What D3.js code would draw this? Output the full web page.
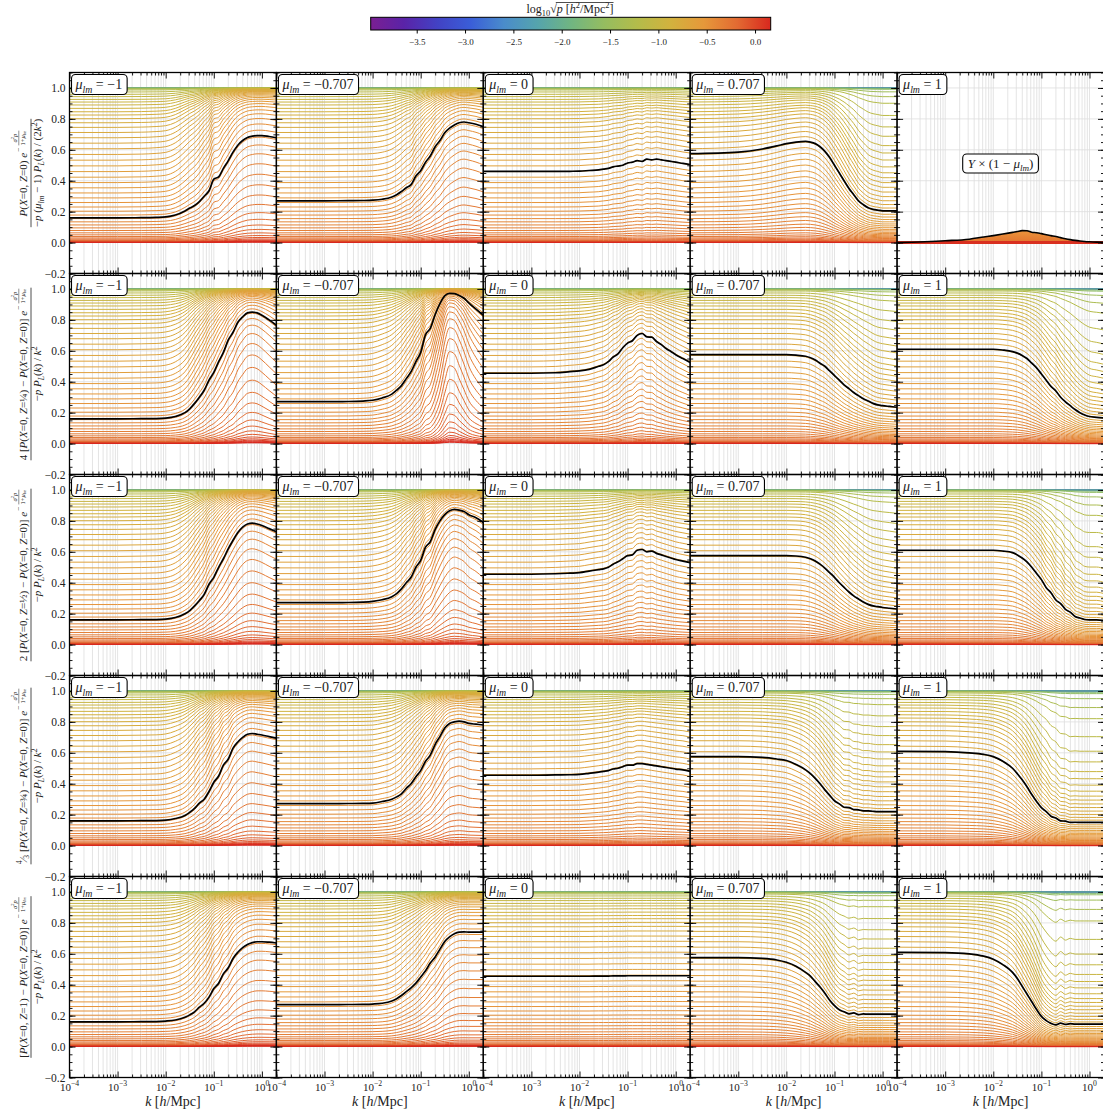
<!DOCTYPE html>
<html><head><meta charset="utf-8">
<script src="https://cdn.jsdelivr.net/npm/d3@7"></script>
<style>
html,body{margin:0;padding:0;background:#fff;}
svg text{font-family:"Liberation Serif","DejaVu Serif",serif;fill:#222;}
</style></head><body>
<svg id="chart" width="1103" height="1114"></svg>
<script>
// ---------------- data ----------------
const muValues = ["−1", "−0.707", "0", "0.707", "1"];

// wavenumbers k [h/Mpc] at which the highlighted curves are tabulated
const kValues = [1e-4, 1e-3, 3.16e-3, 6.31e-3, 0.01, 0.0158, 0.0251, 0.0316, 0.0398, 0.0501,
  0.0631, 0.0794, 0.1, 0.126, 0.158, 0.2, 0.251, 0.316, 0.398, 0.501, 0.631, 0.794, 1.0, 1.41, 2.0];

// highlighted (black) curve of every panel, one array per row, columns mu = -1 ... 1
const blackRow1 = [
  [.160,.160,.161,.163,.166,.178,.205,.223,.240,.265,.300,.335,.410,.425,.480,.530,.585,.630,.660,.680,.688,.692,.692,.686,.678],
  [.270,.270,.271,.272,.274,.280,.295,.310,.330,.355,.375,.430,.465,.520,.560,.620,.660,.710,.740,.760,.775,.780,.775,.765,.750],
  [.460,.460,.460,.461,.462,.466,.470,.475,.480,.490,.495,.500,.515,.520,.530,.525,.540,.535,.540,.535,.530,.525,.520,.512,.505],
  [.575,.585,.605,.625,.640,.650,.655,.650,.640,.620,.590,.550,.500,.450,.400,.350,.310,.270,.245,.225,.215,.210,.205,.205,.205],
  [.000,.012,.022,.036,.045,.055,.066,.072,.077,.076,.067,.064,.058,.051,.045,.039,.032,.025,.019,.014,.010,.007,.005,.003,.002]
];
const blackRow2 = [
  [.160,.160,.161,.162,.165,.175,.200,.225,.260,.300,.345,.410,.460,.530,.590,.670,.720,.785,.820,.845,.850,.845,.830,.800,.765],
  [.271,.271,.272,.275,.280,.295,.320,.345,.375,.420,.465,.530,.590,.705,.745,.835,.905,.955,.972,.970,.958,.940,.910,.870,.830],
  [.455,.455,.458,.465,.470,.480,.500,.510,.530,.560,.580,.620,.650,.665,.700,.712,.690,.688,.660,.640,.615,.595,.575,.550,.525],
  [.575,.575,.575,.575,.575,.572,.565,.555,.540,.520,.500,.470,.440,.410,.380,.355,.330,.310,.290,.275,.260,.250,.245,.240,.235],
  [.610,.610,.610,.610,.610,.605,.595,.585,.570,.550,.520,.490,.450,.410,.370,.340,.300,.270,.245,.220,.200,.185,.175,.170,.165]
];
const blackRow3 = [
  [.160,.160,.161,.162,.165,.175,.200,.220,.250,.285,.325,.390,.435,.500,.555,.620,.675,.725,.760,.780,.785,.780,.770,.750,.730],
  [.271,.271,.272,.275,.280,.290,.310,.330,.360,.400,.435,.500,.545,.630,.665,.745,.800,.840,.865,.875,.870,.860,.840,.820,.790],
  [.455,.455,.458,.462,.465,.475,.485,.490,.500,.520,.535,.555,.575,.580,.610,.615,.600,.605,.590,.580,.570,.560,.550,.540,.530],
  [.575,.575,.575,.575,.575,.573,.565,.555,.540,.520,.495,.465,.435,.400,.370,.340,.315,.295,.275,.260,.250,.245,.240,.235,.230],
  [.610,.610,.610,.610,.610,.605,.595,.580,.560,.535,.500,.460,.420,.368,.335,.288,.265,.228,.210,.182,.172,.162,.160,.160,.155]
];
const blackRow4 = [
  [.160,.160,.161,.162,.165,.175,.195,.215,.240,.275,.300,.350,.410,.450,.520,.560,.630,.670,.700,.720,.725,.720,.715,.705,.695],
  [.271,.271,.272,.273,.275,.285,.300,.315,.335,.370,.400,.445,.485,.545,.585,.655,.705,.760,.790,.800,.805,.800,.790,.785,.780],
  [.455,.455,.457,.458,.460,.467,.475,.480,.485,.495,.500,.510,.520,.520,.530,.530,.525,.520,.515,.510,.505,.500,.495,.490,.480],
  [.575,.575,.570,.560,.550,.525,.490,.465,.435,.400,.360,.325,.290,.270,.248,.246,.233,.231,.225,.225,.222,.220,.220,.220,.220],
  [.610,.608,.600,.590,.575,.545,.500,.465,.425,.380,.330,.285,.245,.220,.190,.178,.160,.158,.150,.151,.150,.150,.150,.150,.150]
];
const blackRow5 = [
  [.160,.160,.161,.162,.165,.172,.190,.205,.225,.255,.280,.320,.375,.410,.470,.510,.570,.610,.640,.660,.672,.678,.678,.675,.670],
  [.271,.271,.272,.273,.275,.280,.295,.310,.330,.355,.380,.410,.450,.490,.540,.580,.630,.680,.710,.730,.740,.742,.740,.740,.740],
  [.455,.455,.455,.455,.455,.455,.456,.456,.456,.457,.457,.457,.458,.458,.458,.458,.458,.458,.458,.458,.458,.458,.458,.458,.458],
  [.575,.575,.570,.560,.545,.520,.480,.455,.420,.385,.345,.300,.265,.238,.225,.212,.218,.207,.211,.210,.210,.210,.210,.210,.210],
  [.610,.608,.600,.585,.565,.530,.480,.440,.390,.340,.290,.240,.195,.168,.150,.140,.152,.143,.148,.145,.145,.145,.145,.145,.145]
];

// family of curves: colour value log10 sqrt(p) and the large-scale (low k) level of each curve
const curveLogSqrtP = [-3.95,-3.6,-3.2,-2.8,-2.4,-2.0,
  -1.75,-1.60,-1.45,-1.32,-1.22,-1.14,-1.08,-1.03,-0.99,-0.95,-0.92,-0.89,-0.86,-0.835,-0.81,-0.79,-0.77,-0.75,
  -0.73,-0.71,-0.69,-0.67,-0.65,-0.63,-0.61,-0.59,-0.57,-0.55,-0.53,-0.51,-0.49,-0.47,-0.45,-0.43,-0.41,-0.39,
  -0.37,-0.35,-0.33,-0.31,-0.29,-0.27,-0.25,-0.23,-0.21,-0.19,-0.16,-0.13,-0.10,-0.06,-0.02,0.04,0.10,0.13,0.15,0.16];
const curvePlateau = [1,1,1,1,1,1,
  .9995,.999,.997,.993,.987,.974,.959,.944,.926,.909,.890,.868,.846,.825,.801,.775,.745,.712,
  .678,.643,.607,.570,.533,.496,.459,.423,.388,.354,.321,.289,.259,.230,.203,.178,.155,.134,
  .114,.095,.078,.063,.050,.039,.030,.023,.0172,.0128,.0094,.0068,.0049,.0035,.0025,.0018,.0013,.0009,.0006,.0004];

const colorbarTicks = [-3.5,-3.0,-2.5,-2.0,-1.5,-1.0,-0.5,0.0];
const colorbarStops = ["#7a1f92","#5a23a8","#4242c4","#3a5ed8","#4a8ccb","#55a4ad","#70b582",
  "#95bd60","#b4bc4a","#d2b23e","#e6983a","#e26a32","#d8281e"];
const colorbarDomain = [-3.976, 0.162];

const xDecades = [1e-4, 1e-3, 1e-2, 1e-1, 1];
const xDecadeLabels = ["−4", "−3", "−2", "−1", "0"];
const yMajorTicks = [-0.2, 0, 0.2, 0.4, 0.6, 0.8, 1.0];
const yMinorTicks = d3.range(-0.2, 1.1001, 0.05);

// ---------------- layout ----------------
const svg = d3.select("#chart");
const gridLeft = 69.5, gridTop = 72.5, panelW = 206.9, panelH = 201;
const blackRows = [blackRow1, blackRow2, blackRow3, blackRow4, blackRow5];

const cmap = d3.scaleLinear()
  .domain(colorbarStops.map((c, i) => colorbarDomain[0] + i * (colorbarDomain[1] - colorbarDomain[0]) / (colorbarStops.length - 1)))
  .range(colorbarStops);

// normalised value as a function of a damping strength u, and its inverse
const damp = 0.6;
function fLevel(u) { return Math.pow(1 + u, -damp); }
function uOf(L) { return L >= 0.99999 ? 0 : Math.pow(Math.max(L, 1e-9), -1 / damp) - 1; }

function rich(textSel, segs, base) {
  let cur = 0;
  segs.forEach(([t, fl]) => {
    fl = fl || "";
    const sup = fl.includes("p"), sub = fl.includes("b");
    const shift = sup ? -0.4 * base : sub ? 0.25 * base : 0;
    textSel.append("tspan").text(t)
      .attr("font-style", fl.includes("i") ? "italic" : "normal")
      .attr("font-size", (sup || sub) ? base * 0.7 : base)
      .attr("dy", shift - cur);
    cur = shift;
  });
  return textSel;
}

const minorX = [];
xDecades.forEach(d => { for (let m = 2; m <= 9; m++) if (m * d <= 2) minorX.push(m * d); });

const defs = svg.append("defs");

for (let r = 0; r < 5; r++) {
  for (let c = 0; c < 5; c++) {
    const x0 = gridLeft + c * panelW, y0 = gridTop + r * panelH;
    const x = d3.scaleLog().domain([1e-4, 2]).range([x0, x0 + panelW]);
    const y = d3.scaleLinear().domain([-0.2, 1.1]).range([y0 + panelH, y0]);
    const g = svg.append("g");
    const clipId = `clip-${r}-${c}`;
    defs.append("clipPath").attr("id", clipId).append("rect")
      .attr("x", x0).attr("y", y0).attr("width", panelW).attr("height", panelH);
    const inner = g.append("g").attr("clip-path", `url(#${clipId})`);

    // grid
    inner.selectAll("line.gx").data(xDecades.concat(minorX)).join("line")
      .attr("x1", d => x(d)).attr("x2", d => x(d)).attr("y1", y0).attr("y2", y0 + panelH)
      .attr("stroke", "#dddddd").attr("stroke-width", 0.8);
    inner.selectAll("line.gy").data(yMajorTicks).join("line")
      .attr("x1", x0).attr("x2", x0 + panelW).attr("y1", d => y(d)).attr("y2", d => y(d))
      .attr("stroke", "#dddddd").attr("stroke-width", 0.8);

    const black = blackRows[r][c];
    const line = d3.line().x(d => x(d[0])).y(d => y(d[1])).curve(d3.curveMonotoneX);

    if (r === 0 && c === 4) {
      // Y x (1 - mu) vanishes except for the hump
      const gradId = "humpGrad";
      const gr = defs.append("linearGradient").attr("id", gradId).attr("x1", 0).attr("x2", 0).attr("y1", 0).attr("y2", 1);
      gr.append("stop").attr("offset", "0%").attr("stop-color", "#e9953c");
      gr.append("stop").attr("offset", "100%").attr("stop-color", "#e4742f");
      const area = d3.area().x(d => x(d[0])).y0(y(0)).y1(d => y(d[1])).curve(d3.curveMonotoneX);
      inner.append("path").datum(kValues.map((k, i) => [k, black[i]]))
        .attr("d", area).attr("fill", `url(#${gradId})`);
      inner.append("path").datum(kValues.map(k => [k, 0]))
        .attr("d", line).attr("fill", "none").attr("stroke", cmap(0.12)).attr("stroke-width", 3);
      inner.append("path").datum(kValues.map((k, i) => [k, black[i]]))
        .attr("d", line).attr("fill", "none").attr("stroke", "#000").attr("stroke-width", 1.6);
    } else {
      const u0 = uOf(black[0]);
      const ratio = black.map(v => uOf(v) / u0);
      curvePlateau.forEach((L, i) => {
        const ui = uOf(L);
        const pts = kValues.map((k, j) => [k, fLevel(ui * ratio[j])]);
        inner.append("path").datum(pts).attr("d", line).attr("fill", "none")
          .attr("stroke", cmap(curveLogSqrtP[i])).attr("stroke-width", 1);
      });
      inner.append("path").datum(kValues.map((k, i) => [k, black[i]]))
        .attr("d", line).attr("fill", "none").attr("stroke", "#000").attr("stroke-width", 1.7);
    }

    // ticks, pointing inwards on all four sides
    const tickStyle = s => s.call(a => a.select(".domain").remove())
      .call(a => a.selectAll("line").attr("stroke", "#000").attr("stroke-width", 0.9))
      .call(a => a.selectAll("text").remove());
    g.append("g").attr("transform", `translate(0,${y0 + panelH})`)
      .call(d3.axisBottom(x).tickValues(xDecades).tickSize(-6)).call(tickStyle);
    g.append("g").attr("transform", `translate(0,${y0 + panelH})`)
      .call(d3.axisBottom(x).tickValues(minorX).tickSize(-3)).call(tickStyle);
    g.append("g").attr("transform", `translate(0,${y0})`)
      .call(d3.axisTop(x).tickValues(xDecades).tickSize(-6)).call(tickStyle);
    g.append("g").attr("transform", `translate(0,${y0})`)
      .call(d3.axisTop(x).tickValues(minorX).tickSize(-3)).call(tickStyle);
    g.append("g").attr("transform", `translate(${x0},0)`)
      .call(d3.axisLeft(y).tickValues(yMajorTicks).tickSize(-6)).call(tickStyle);
    g.append("g").attr("transform", `translate(${x0},0)`)
      .call(d3.axisLeft(y).tickValues(yMinorTicks).tickSize(-3)).call(tickStyle);
    g.append("g").attr("transform", `translate(${x0 + panelW},0)`)
      .call(d3.axisRight(y).tickValues(yMajorTicks).tickSize(-6)).call(tickStyle);
    g.append("g").attr("transform", `translate(${x0 + panelW},0)`)
      .call(d3.axisRight(y).tickValues(yMinorTicks).tickSize(-3)).call(tickStyle);

    g.append("rect").attr("x", x0).attr("y", y0).attr("width", panelW).attr("height", panelH)
      .attr("fill", "none").attr("stroke", "#000").attr("stroke-width", 1.3);

    // mu label box
    const box = g.append("rect");
    const lt = g.append("text").attr("x", x0 + 6).attr("y", y0 + 16.5).attr("font-size", 14);
    rich(lt, [["μ", "i"], ["lm", "ib"], [" = " + muValues[c], ""]], 14);
    const w = lt.node().getComputedTextLength();
    box.attr("x", x0 + 2).attr("y", y0 + 2).attr("width", w + 9).attr("height", 20)
      .attr("rx", 4).attr("fill", "#fff").attr("stroke", "#000").attr("stroke-width", 1.1);

    if (c === 0) {
      g.selectAll("text.yl").data(yMajorTicks).join("text")
        .attr("x", x0 - 4).attr("y", d => y(d)).attr("dy", "0.35em")
        .attr("text-anchor", "end").attr("font-size", 11.5)
        .text(d => (d < 0 ? "−" : "") + Math.abs(d).toFixed(1));
    }
    if (r === 4) {
      xDecades.forEach((d, i) => {
        const t = g.append("text").attr("x", x(d)).attr("y", y0 + panelH + 13).attr("text-anchor", "middle");
        rich(t, [["10", ""], [xDecadeLabels[i], "p"]], 11);
      });
      const kt = g.append("text").attr("x", x0 + panelW / 2).attr("y", y0 + panelH + 28)
        .attr("text-anchor", "middle");
      rich(kt, [["k", "i"], [" [", ""], ["h", "i"], ["/Mpc]", ""]], 14);
    }
  }
}

// box in the upper right panel
{
  const bx = gridLeft + 4.5 * panelW, by = gridTop + 91;
  const gb = svg.append("g");
  const rect = gb.append("rect");
  const t = gb.append("text").attr("x", bx).attr("y", by + 4.5).attr("text-anchor", "middle");
  rich(t, [["Y", "i"], [" × (1 − ", ""], ["μ", "i"], ["lm", "ib"], [")", ""]], 13);
  const w = t.node().getComputedTextLength();
  rect.attr("x", bx - w / 2 - 5).attr("y", by - 9.5).attr("width", w + 10)
    .attr("height", 19).attr("rx", 4).attr("fill", "#fff").attr("stroke", "#000").attr("stroke-width", 1.1);
}

// y-axis labels (fractions, rotated)
const rowPrefix = [
  [],
  [["4 [", ""]],
  [["2 [", ""]],
  [["4", "p"], ["⁄", ""], ["3", "b"], [" [", ""]],
  [["[", ""]]
];
const rowZ = ["0", "¼", "½", "¾", "1"];
rowPrefix.forEach((pre, r) => {
  const cy = gridTop + r * panelH + panelH / 2;
  const g = svg.append("g").attr("transform", `translate(31,${cy}) rotate(-90)`);
  const fs = 11;
  let segs;
  if (r === 0) {
    segs = [["P", "i"], ["(", ""], ["X", "i"], ["=0, ", ""], ["Z", "i"], ["=0) ", ""], ["e", "i"]];
  } else {
    segs = pre.concat([["P", "i"], ["(", ""], ["X", "i"], ["=0, ", ""], ["Z", "i"], ["=" + rowZ[r] + ") − ", ""],
      ["P", "i"], ["(", ""], ["X", "i"], ["=0, ", ""], ["Z", "i"], ["=0)] ", ""], ["e", "i"]]);
  }
  const num = g.append("text").attr("x", 0).attr("y", -4.5).attr("font-size", fs);
  rich(num, segs, fs);
  const nw = num.node().getComputedTextLength();
  // exponent: -(sigma^2 p)/(1 + mu_lm)
  const ex = g.append("g");
  ex.append("text").attr("x", nw + 1).attr("y", -10).attr("font-size", 7.5).text("−");
  const fnum = ex.append("text").attr("y", -14).attr("font-size", 6.5).attr("text-anchor", "middle");
  rich(fnum, [["σ", "i"], ["2", "p"], ["p", "i"]], 6.5);
  const fden = ex.append("text").attr("y", -6.3).attr("font-size", 6.5).attr("text-anchor", "middle");
  rich(fden, [["1+", ""], ["μ", "i"], ["lm", "ib"]], 6.5);
  const fw = Math.max(fnum.node().getComputedTextLength(), fden.node().getComputedTextLength());
  const fx = nw + 7.5 + fw / 2;
  fnum.attr("x", fx); fden.attr("x", fx);
  ex.append("line").attr("x1", fx - fw / 2).attr("x2", fx + fw / 2).attr("y1", -12.2).attr("y2", -12.2)
    .attr("stroke", "#222").attr("stroke-width", 0.5);
  const totalNum = nw + 8.5 + fw;

  const den = g.append("text").attr("x", 0).attr("y", 10).attr("font-size", fs);
  if (r === 0) {
    rich(den, [["−", ""], ["p", "i"], [" (", ""], ["μ", "i"], ["lm", "ib"], [" − 1) ", ""], ["P", "i"], ["L", "ib"],
      ["(", ""], ["k", "i"], [") / (2", ""], ["k", "i"], ["2", "p"], [")", ""]], fs);
  } else {
    rich(den, [["−", ""], ["p", "i"], [" ", ""], ["P", "i"], ["L", "ib"], ["(", ""], ["k", "i"], [") / ", ""], ["k", "i"], ["2", "p"]], fs);
  }
  const dw = den.node().getComputedTextLength();
  const full = Math.max(totalNum, dw);
  num.attr("x", -full / 2 + (full - totalNum) / 2);
  ex.attr("transform", `translate(${-full / 2 + (full - totalNum) / 2},0)`);
  den.attr("x", -dw / 2);
  g.append("line").attr("x1", -full / 2).attr("x2", full / 2).attr("y1", 0).attr("y2", 0)
    .attr("stroke", "#222").attr("stroke-width", 0.8);
});

// colour bar
{
  const cbX = d3.scaleLinear().domain(colorbarDomain).range([370.7, 770.7]);
  const grad = defs.append("linearGradient").attr("id", "cbGrad");
  colorbarStops.forEach((col, i) => grad.append("stop")
    .attr("offset", (100 * i / (colorbarStops.length - 1)) + "%").attr("stop-color", col));
  svg.append("rect").attr("x", 370.7).attr("y", 17.3).attr("width", 400).attr("height", 12.7)
    .attr("fill", "url(#cbGrad)").attr("stroke", "#000").attr("stroke-width", 1);
  const ax = svg.append("g").attr("transform", "translate(0,30)")
    .call(d3.axisBottom(cbX).tickValues(colorbarTicks).tickSize(3.5).tickFormat(d => (d < 0 ? "−" : "") + Math.abs(d).toFixed(1)));
  ax.select(".domain").remove();
  ax.selectAll("line").attr("stroke", "#000");
  ax.selectAll("text").attr("font-size", 9).attr("font-family", "Liberation Serif, DejaVu Serif, serif").attr("fill", "#222").attr("dy", "0.9em");

  const t1 = svg.append("text").attr("y", 13).attr("font-size", 12);
  rich(t1, [["log", ""], ["10", "b"], ["√", ""]], 12);
  const t2 = svg.append("text").attr("y", 13).attr("font-size", 12);
  rich(t2, [["p", "i"], [" [", ""], ["h", "i"], ["2", "p"], ["/Mpc", ""], ["2", "p"], ["]", ""]], 12);
  const w1 = t1.node().getComputedTextLength(), w2 = t2.node().getComputedTextLength();
  const sx = 570 - (w1 + w2) / 2;
  t1.attr("x", sx); t2.attr("x", sx + w1);
  svg.append("line").attr("x1", sx + w1 - 1).attr("x2", sx + w1 + w2).attr("y1", 2.5).attr("y2", 2.5)
    .attr("stroke", "#222").attr("stroke-width", 0.8);
}
</script>
</body></html>
